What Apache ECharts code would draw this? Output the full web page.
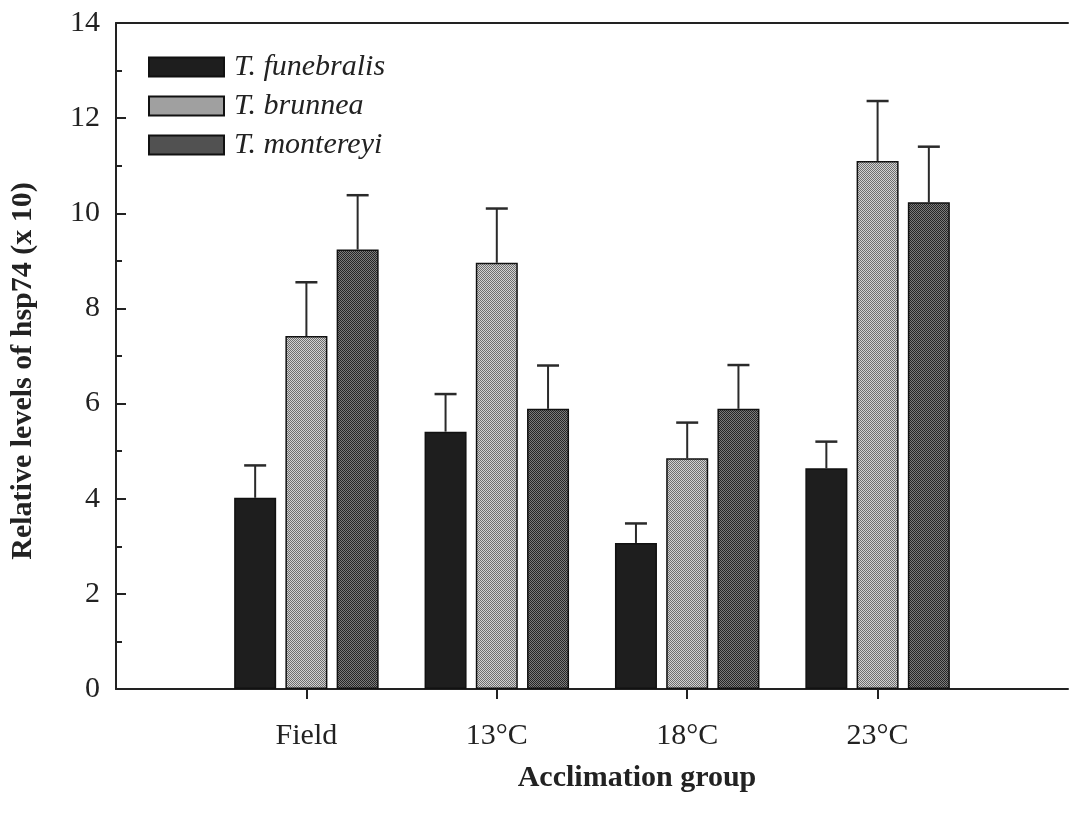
<!DOCTYPE html>
<html>
<head>
<meta charset="utf-8">
<script src="https://cdn.jsdelivr.net/npm/echarts@6/dist/echarts.min.js"></script>
<style>
html,body{margin:0;padding:0;background:#fff;}
#chart{width:1071px;height:814px;}
</style>
</head>
<body>
<div id="chart"></div>
<script>
// ---- data ----
var categories = ['Field', '13°C', '18°C', '23°C'];
var seriesNames = ['T. funebralis', 'T. brunnea', 'T. montereyi'];
var funebralis = [4.02, 5.41, 3.07, 4.64];
var funebralisErr = [0.68, 0.79, 0.41, 0.56];
var brunnea = [7.42, 8.96, 4.85, 11.10];
var brunneaErr = [1.13, 1.14, 0.75, 1.26];
var montereyi = [9.24, 5.89, 5.89, 10.23];
var montereyiErr = [1.14, 0.91, 0.92, 1.17];
var yTicks = [0, 2, 4, 6, 8, 10, 12, 14];

// ---- styles ----
function checker(a, b) {
  var c = document.createElement('canvas');
  c.width = 2; c.height = 2;
  var ctx = c.getContext('2d');
  ctx.fillStyle = a; ctx.fillRect(0, 0, 2, 2);
  ctx.fillStyle = b; ctx.fillRect(0, 0, 1, 1); ctx.fillRect(1, 1, 1, 1);
  return c;
}
var fills = [
  '#1e1e1e',
  { image: checker('#d2d2d2', '#6e6e6e'), repeat: 'repeat' },
  { image: checker('#7c7c7c', '#262626'), repeat: 'repeat' }
];
var values = [funebralis, brunnea, montereyi];
var errs = [funebralisErr, brunneaErr, montereyiErr];

// pad categories so the axis runs one slot beyond each side
var axisCats = [''].concat(categories).concat(['']);
function pad(arr) { return [null].concat(arr).concat([null]); }

var BAR_W = 42, GAP = 0.22;
var step = BAR_W * (1 + GAP);
var serif = '"Liberation Serif", "DejaVu Serif", serif';

var series = [];
values.forEach(function (vals, si) {
  series.push({
    name: seriesNames[si],
    type: 'bar',
    data: pad(vals),
    barWidth: BAR_W,
    barGap: (GAP * 100) + '%',
    itemStyle: { color: fills[si], borderColor: '#111', borderWidth: 1.5 },
    z: 3
  });
});
values.forEach(function (vals, si) {
  var d = [];
  vals.forEach(function (v, i) { d.push([i + 1, v, v + errs[si][i]]); });
  series.push({
    type: 'custom',
    name: seriesNames[si] + ' err',
    data: d,
    z: 2,
    silent: true,
    renderItem: function (params, api) {
      var off = (si - 1) * step;
      var base = api.coord([api.value(0), api.value(1)]);
      var top = api.coord([api.value(0), api.value(2)]);
      var x = base[0] + off;
      return {
        type: 'group',
        children: [
          { type: 'line', shape: { x1: x, y1: base[1], x2: x, y2: top[1] },
            style: { stroke: '#2a2a2a', lineWidth: 2 } },
          { type: 'line', shape: { x1: x - 11, y1: top[1], x2: x + 11, y2: top[1] },
            style: { stroke: '#2a2a2a', lineWidth: 2.5 } }
        ]
      };
    }
  });
});

var option = {
  animation: false,
  backgroundColor: '#fff',
  grid: { left: 116, top: 23, width: 960, height: 666 },
  legend: {
    data: seriesNames,
    orient: 'vertical',
    left: 143, top: 47,
    itemWidth: 75, itemHeight: 19, itemGap: 9,
    icon: 'rect',
    textStyle: { fontFamily: serif, fontStyle: 'italic', fontSize: 30, color: '#222', padding: [0, 0, 0, 5] }
  },
  xAxis: [{
    type: 'category',
    data: axisCats,
    boundaryGap: false,
    axisLine: { lineStyle: { color: '#222', width: 2 } },
    axisTick: { show: true, inside: false, length: 10, lineStyle: { color: '#222', width: 2 },
      interval: function (i, v) { return v !== ''; } },
    axisLabel: { fontFamily: serif, fontSize: 30, color: '#222', margin: 32, interval: 0 },
    name: 'Acclimation group',
    nameLocation: 'middle',
    nameGap: 74,
    nameTextStyle: { fontFamily: serif, fontWeight: 'bold', fontSize: 30, color: '#222', padding: [0, 0, 0, 90] },
    splitLine: { show: false }
  }, {
    type: 'category',
    data: axisCats,
    boundaryGap: false,
    position: 'top',
    axisLine: { lineStyle: { color: '#222', width: 2 } },
    axisTick: { show: false },
    axisLabel: { show: false }
  }],
  yAxis: {
    type: 'value',
    min: yTicks[0], max: yTicks[yTicks.length - 1], interval: 2,
    axisLine: { show: true, lineStyle: { color: '#222', width: 2 } },
    axisTick: { show: true, inside: true, length: 10, lineStyle: { color: '#222', width: 2 } },
    minorTick: { show: true, splitNumber: 2, length: 6, lineStyle: { color: '#222', width: 2 } },
    splitLine: { show: false },
    axisLabel: { fontFamily: serif, fontSize: 30, color: '#222', margin: 16 },
    name: 'Relative levels of hsp74 (x 10)',
    nameLocation: 'middle',
    nameGap: 78,
    nameTextStyle: { fontFamily: serif, fontWeight: 'bold', fontSize: 30, color: '#222', padding: [0, 30, 0, 0] }
  },
  series: series
};

var chart = echarts.init(document.getElementById('chart'), null, { renderer: 'canvas' });
chart.setOption(option);
</script>
</body>
</html>
